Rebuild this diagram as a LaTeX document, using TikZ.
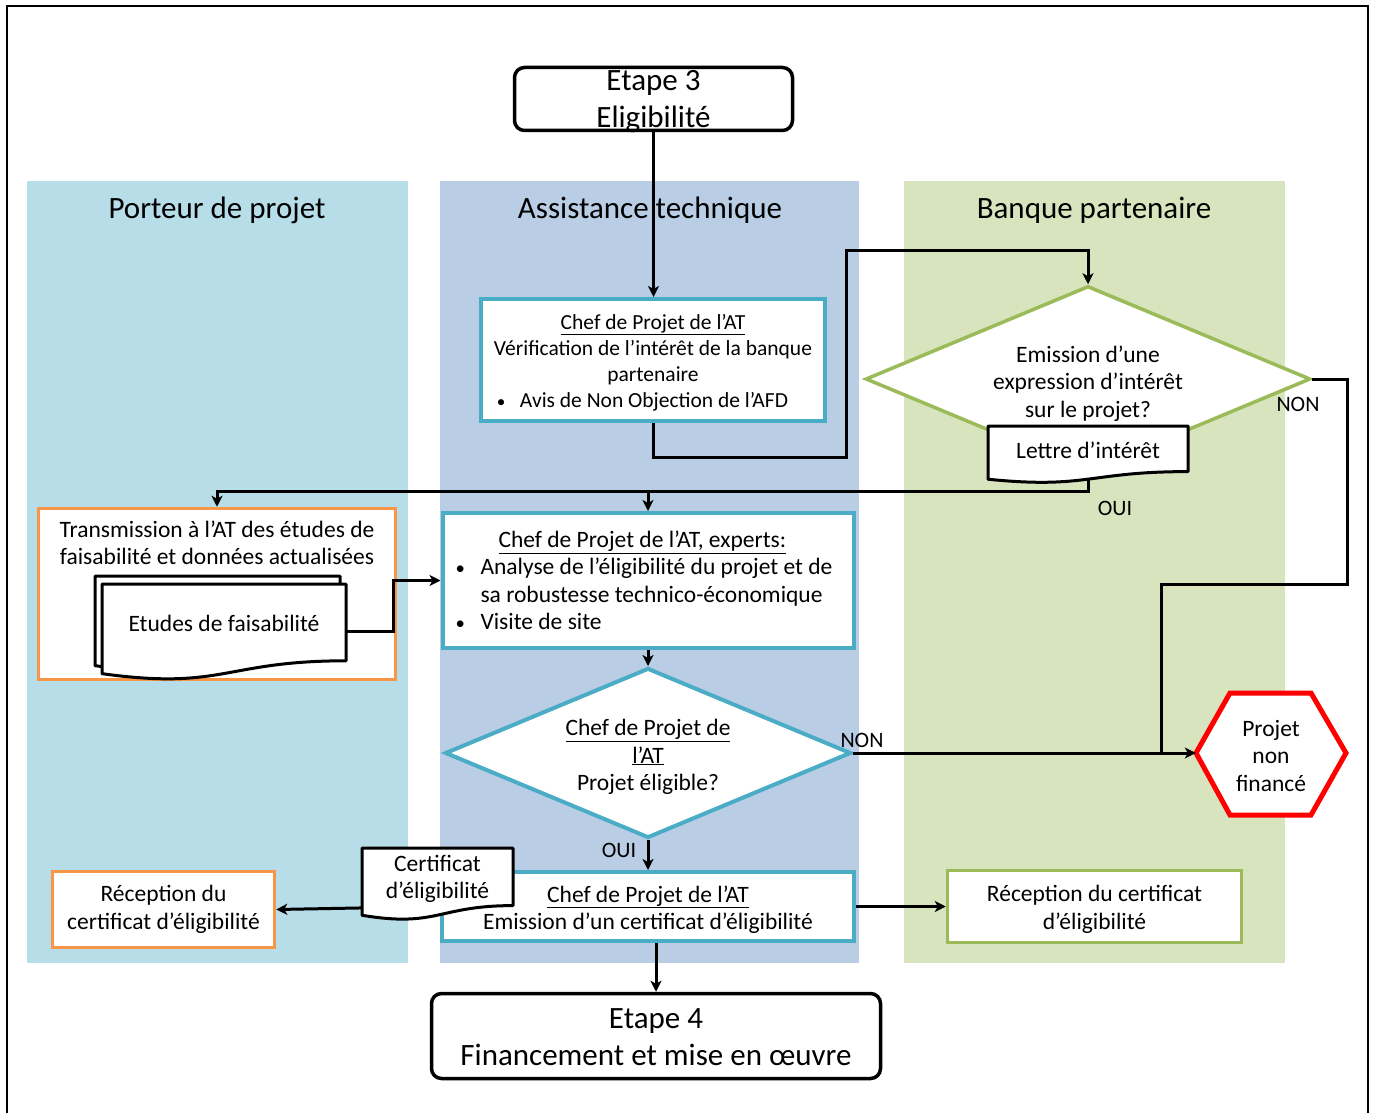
\documentclass[tikz,border=0pt]{standalone}
\usepackage{fontspec}
\setmainfont{Carlito}
\usetikzlibrary{shapes.geometric,arrows.meta,calc}
\pgfdeclarelayer{docs}
\pgfsetlayers{main,docs}
\definecolor{laneA}{RGB}{183,221,232}
\definecolor{laneB}{RGB}{185,205,229}
\definecolor{laneC}{RGB}{215,228,189}
\definecolor{tealb}{RGB}{75,172,198}
\definecolor{orangeb}{RGB}{247,150,70}
\definecolor{greenb}{RGB}{155,187,89}
% document outline with wavy bottom: left x, right x, top y, height
\newcommand\docoutline[4]{%
  \draw[docline] (#1,#3) -- (#2,#3) -- (#2,{#3+0.8*#4})
    .. controls ({(#1+#2)/2},{#3+0.8*#4}) and ({(#1+#2)/2},{#3+1.109*#4}) ..
    (#1,{#3+0.934*#4}) -- cycle;}
\newcommand\smallbullet{\scalebox{0.8}{•}}
\begin{document}
\begin{tikzpicture}[x=1pt,y=-1pt,
  bodytxt/.style={font=\fontsize{23.5}{27.5}\selectfont},
  smalltxt/.style={font=\fontsize{21.5}{26}\selectfont},
  bigtxt/.style={font=\fontsize{31}{37}\selectfont},
  txt/.style={align=center,inner sep=0pt},
  tealbox/.style={draw=tealb,line width=4pt,fill=white,bodytxt,txt},
  orangebox/.style={draw=orangeb,line width=3.5pt,fill=white,bodytxt,txt},
  greenbox/.style={draw=greenb,line width=3.5pt,fill=white,bodytxt,txt},
  stagebox/.style={draw=black,line width=3.5pt,rounded corners=10pt,fill=white,bigtxt,txt},
  choice/.style={diamond,fill=white,inner sep=0pt,bodytxt,align=center},
  docline/.style={draw=black,line width=3pt,fill=white,line join=round},
  wire/.style={line width=3pt},
  conn/.style={line width=3pt,-{Stealth[length=11pt,width=11pt,inset=3pt]}},
  tag/.style={font=\fontsize{22}{26}\selectfont,inner sep=0pt},
]
\useasboundingbox (0,0) rectangle (1375,1113);
% outer frame
\draw[line width=1.5pt] (7,1113) -- (7,6) -- (1368,6) -- (1368,1113);

% swimlanes
\fill[laneA] (27,181) rectangle (408,963);
\fill[laneB] (440,181) rectangle (859,963);
\fill[laneC] (904,181) rectangle (1285,963);
\node[bigtxt] (laneAt) at (217,210) {Porteur de projet};
\node[bigtxt] (laneBt) at (650,210) {Assistance technique};
\node[bigtxt] (laneCt) at (1094,210) {Banque partenaire};

% stages
\node[stagebox,minimum width=278,minimum height=63] (etape3) at (653.5,99) {};
\node[bigtxt,txt] (etape3T) at ([yshift=-3pt]etape3.center) {Etape 3\\ Eligibilité};
\node[stagebox,minimum width=449,minimum height=85] (etape4) at (656,1036) {};
\node[bigtxt,txt] (etape4T) at ([yshift=-1pt]etape4.center) {Etape 4\\ Financement et mise en œuvre};

% technical assistance column
\node[tealbox,minimum width=344,minimum height=122] (chef1) at (653,360) {};
\node[smalltxt,txt] (chef1T) at ([yshift=-2.5pt]chef1.center)
  {\underline{Chef de Projet de l’AT}\\ Vérification de l’intérêt de la banque\\ partenaire\\
   \makebox[23pt][l]{\smallbullet}Avis de Non Objection de l’AFD\hspace*{21pt}};
\node[tealbox,minimum width=411,minimum height=135,text width=385,align=flush left] (chef2) at (648,580.5)
  {\hspace*{43pt}\underline{Chef de Projet de l’AT, experts:}\\
   \makebox[25pt][l]{\smallbullet}Analyse de l’éligibilité du projet et de\\
   \hspace*{25pt}sa robustesse technico-économique\\
   \makebox[25pt][l]{\smallbullet}Visite de site};
\node[choice,draw=tealb,line width=4pt,aspect=2.39,minimum width=406,minimum height=170] (elig) at (648,753) {};
\node[bodytxt,txt] (eligT) at ([yshift=-4pt]elig.center)
  {\underline{Chef de Projet de}\\ \underline{l’AT}\\ Projet éligible?};
\node[tealbox,minimum width=412,minimum height=69] (chef3) at (648,906.5) {};
\node[bodytxt,txt] (chef3T) at ([yshift=-3pt]chef3.center)
  {\underline{Chef de Projet de l’AT}\\ Emission d’un certificat d’éligibilité};

% project owner column
\node[orangebox,minimum width=357,minimum height=171] (trans) at (217,594) {};
\node[bodytxt,txt] (transT) at (217,543)
  {Transmission à l’AT des études de\\ faisabilité et données actualisées};
\node[orangebox,minimum width=222,minimum height=76] (recep1) at (163.5,909.5)
  {Réception du\\ certificat d’éligibilité};

% partner bank column
\node[choice,draw=greenb,line width=3.5pt,aspect=2.39,minimum width=445,minimum height=186] (emis) at (1088,379) {};
\node[bodytxt,txt] (emisT) at ([yshift=-4.5pt]emis.center)
  {Emission d’une\\ expression d’intérêt\\ sur le projet?};
\node[greenbox,minimum width=294,minimum height=72] (recep2) at (1094.5,906.5) {};
\node[bodytxt,txt] (recep2T) at ([yshift=-3pt]recep2.center)
  {Réception du certificat\\ d’éligibilité};
\draw[red,line width=5pt,fill=white,line join=miter]
  (1196,753) -- (1230,693) -- (1311,693) -- (1346,753) -- (1311,815) -- (1230,815) -- cycle;
\node[bodytxt,txt,minimum width=150,minimum height=122] (nonfin) at (1271,753) {};
\node[bodytxt,txt] (nonfinT) at ([yshift=-2.5pt]nonfin.center) {Projet\\ non\\ financé};

% documents, drawn above the connectors
\begin{pgfonlayer}{docs}
  \docoutline{988}{1188}{426}{57}
  \node[bodytxt,txt,minimum width=200,minimum height=46] (lettre) at (1088,449) {};
  \node[bodytxt,txt] (lettreT) at ([yshift=-1pt]lettre.center) {Lettre d’intérêt};
  \docoutline{95}{340}{576}{96}
  \docoutline{102}{346}{584}{96}
  \node[bodytxt,txt,minimum width=244,minimum height=77] (etudes) at (224,623) {Etudes de faisabilité};
  \docoutline{362}{513}{848}{72}
  \node[bodytxt,txt,minimum width=151,minimum height=58] (cert) at (437.5,879) {Certificat\\ d’éligibilité};
\end{pgfonlayer}

% connectors
\coordinate (k1) at (846,457);
\coordinate (k2) at (846,250);
\coordinate (j1) at (1088,491);
\coordinate (k3) at (1347,584);
\coordinate (k4) at (1161,753);
\draw[conn] (etape3.south) -- (etape3.south |- chef1.north);
\draw[conn] (chef1.south) |- (k1) -- (k2) -| (emis.north);
\draw[conn] (lettre.south) -- (j1) -| (trans.north);
\draw[conn] (chef2.north |- j1) -- (chef2.north);
\draw[wire] (emis.east) -| (k3) -| (k4);
\draw[conn] ([yshift=-8.5pt]etudes.east) -- ++(47,0) |- (chef2.west);
\draw[conn] (chef2.south) -- (elig.north);
\draw[conn] (elig.east) -- (nonfin.west);
\draw[conn] (elig.south) -- (elig.south |- chef3.north);
\draw[conn] (chef3.west) -- (recep1.east);
\draw[conn] (chef3.east) -- (recep2.west);
\draw[conn] (etape4.north |- chef3.south) -- (etape4.north);

% branch labels
\node[tag] (non1) at (1298,404) {NON};
\node[tag] (oui1) at (1115,508) {OUI};
\node[tag] (non2) at (862,740) {NON};
\node[tag] (oui2) at (619,850) {OUI};
\end{tikzpicture}
\end{document}
